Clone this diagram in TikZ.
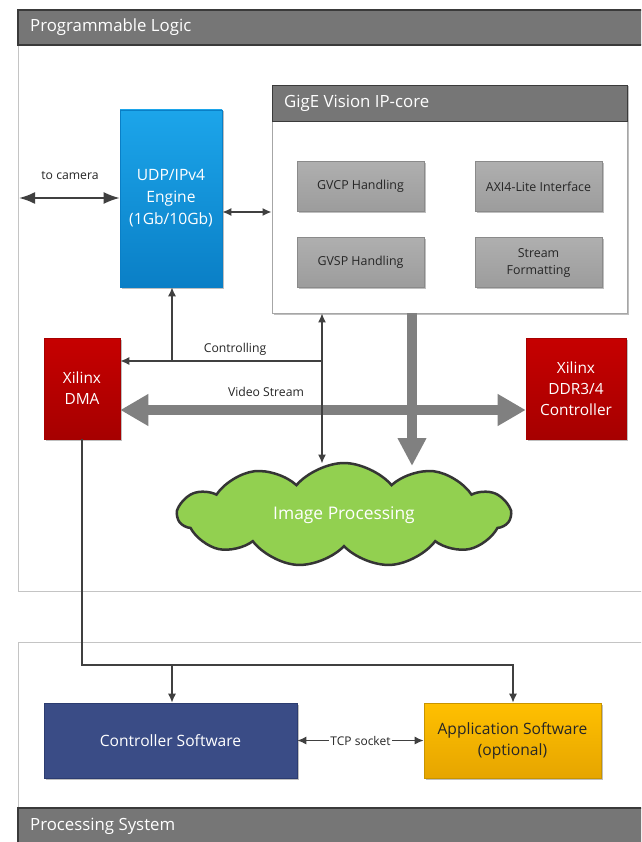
\documentclass[tikz,border=0pt]{standalone}
\usepackage{fontspec}
\setmainfont{Open Sans}
\usetikzlibrary{arrows.meta,shapes.symbols,shadows}
\definecolor{hdr}{HTML}{767676}
\definecolor{hdrline}{HTML}{3A3A3A}
\definecolor{pline}{HTML}{C4C4C4}
\definecolor{ink}{HTML}{262626}
\definecolor{arr}{HTML}{404040}
\definecolor{fat}{HTML}{808080}
\definecolor{blueT}{HTML}{1CA5EA}
\definecolor{blueB}{HTML}{0A7FC6}
\definecolor{redT}{HTML}{C60000}
\definecolor{redB}{HTML}{A60000}
\definecolor{grayT}{HTML}{AFAFAF}
\definecolor{grayB}{HTML}{9C9C9C}
\definecolor{grayline}{HTML}{8A8A8A}
\definecolor{navy}{HTML}{3A4C86}
\definecolor{navyline}{HTML}{2C3C70}
\definecolor{goldT}{HTML}{FFC000}
\definecolor{goldB}{HTML}{E6A500}
\definecolor{goldline}{HTML}{C89400}
\definecolor{cloudgreen}{HTML}{92D050}
\definecolor{cloudline}{HTML}{353535}
\definecolor{gigeline}{HTML}{A6A6A6}
\begin{document}
\begin{tikzpicture}[x=1pt,y=-1pt,
  every node/.style={inner sep=0pt, align=center},
  >={Latex[length=9pt,width=8pt]},
  shade/.style={drop shadow={shadow xshift=1.5pt, shadow yshift=-1.5pt, opacity=0.25, fill=black}},
  tarrow/.style={draw=arr, line width=1.4pt},
  fatarr/.style={draw=fat, line width=10pt},
  lbl/.style={text=ink, font=\fontsize{12.2}{15}\selectfont},
  graybox/.style={shade, top color=grayT, bottom color=grayB, draw=grayline, line width=0.6pt,
    minimum width=127pt, minimum height=50pt, text=ink, font=\fontsize{12.4}{17}\selectfont},
  redbox/.style={shade, top color=redT, bottom color=redB, draw=redB, line width=0.6pt,
    minimum height=101pt, text=white, font=\fontsize{15.4}{21}\selectfont},
  titletext/.style={anchor=west, text=white, font=\fontsize{16.8}{20}\selectfont},
]
\useasboundingbox (0,0) rectangle (641,842);
\clip (0,0) rectangle (641,842);

% ---------- panels ----------
\draw[draw=pline, line width=1pt, fill=white] (18,10) rectangle (660,591.5);
\draw[fill=hdr, draw=hdrline, line width=1.2pt] (18,10) rectangle (660,45);
\node[titletext] (pltitle) at (30,27.5) {Programmable Logic};

\draw[draw=pline, line width=1pt, fill=white] (18,642) rectangle (660,860);
\draw[fill=hdr, draw=hdrline, line width=1.2pt] (18,808) rectangle (660,860);
\node[titletext] (pstitle) at (30,826.5) {Processing System};

% ---------- GigE core ----------
\node[shade, draw=gigeline, line width=0.8pt, fill=white, minimum width=355pt, minimum height=228pt] (gige) at (449.5,199) {};
\node[fill=hdr, draw=hdrline, line width=1pt, minimum width=355pt, minimum height=36pt, anchor=north] (gigehdr) at (gige.north) {};
\node[titletext] (gigetitle) at (284,103) {GigE Vision IP-core};
\node[graybox] (gvcp) at (360.5,186.5) {GVCP Handling};
\node[graybox] (axi) at (538.5,186.5) {AXI4-Lite Interface};
\node[graybox] (gvsp) at (360.5,262.5) {GVSP Handling};
\node[graybox] (strm) at (538.5,262.5) {Stream\\Formatting};

% ---------- UDP engine ----------
\node[shade, top color=blueT, bottom color=blueB, draw=blueB, line width=0.6pt,
  minimum width=102pt, minimum height=177pt, text=white,
  font=\fontsize{15.6}{22}\selectfont] (udp) at (171,198.5) {UDP/IPv4\\Engine\\(1Gb/10Gb)};

% ---------- Xilinx blocks ----------
\node[redbox, minimum width=76pt] (dma) at (82,388.5) {Xilinx\\DMA};
\node[redbox, minimum width=100pt] (ddr) at (576,388.5) {Xilinx\\DDR3/4\\Controller};

% ---------- cloud ----------
\node[cloud, cloud puffs=11, cloud puff arc=100, shape border rotate=-8.2, aspect=3.2, minimum width=332pt, minimum height=104pt,
  fill=cloudgreen, draw=cloudline, line width=2.5pt, text=white,
  font=\fontsize{17.4}{20}\selectfont] (cloud) at (344,515) {Image Processing};

% ---------- software blocks ----------
\node[shade, fill=navy, draw=navyline, line width=0.6pt, minimum width=253pt, minimum height=75pt,
  text=white, font=\fontsize{15.6}{21}\selectfont] (ctrl) at (170.5,740.5) {Controller Software};
\node[shade, top color=goldT, bottom color=goldB, draw=goldline, line width=0.6pt, minimum width=177pt, minimum height=75pt,
  text=ink, font=\fontsize{15.6}{21}\selectfont] (app) at (512.5,740.5) {Application Software\\(optional)};

% ---------- connectors ----------
\coordinate (cam) at (19,198);
\draw[draw=arr, line width=2pt, {Latex[length=16pt,width=12pt]}-{Latex[length=16pt,width=12pt]}] (cam) -- (cam -| udp.west);
\node[lbl] (camlbl) at (70,176) {to camera};

\coordinate (ug) at (222,212);
\draw[tarrow, line width=1.6pt, <->] (udp.east |- ug) -- (gige.west |- ug);

% video stream (thick)
\coordinate (vs) at (120,410);
\draw[fatarr, {Triangle[length=28pt,width=30pt]}-{Triangle[length=28pt,width=30pt]}] (dma.east |- vs) -- (ddr.west |- vs);
\node[lbl] (vslbl) at (266,392) {Video Stream};

% thick down arrow to cloud
\coordinate (ft) at (412,466);
\draw[fatarr, -{Triangle[length=28pt,width=27pt]}] (gige.south -| ft) -- (ft);

% controlling
\coordinate (cj) at (322,361);
\coordinate (cu) at (172,361);
\coordinate (ct) at (322,463.5);
\draw[tarrow, ->] (cj) -- (cj -| dma.east);
\draw[tarrow, ->] (cu) -- (cu |- udp.south);
\draw[tarrow, <->] (gige.south -| ct) -- (ct);
\node[lbl] (ctlbl) at (235,349) {Controlling};

% DMA to software
\coordinate (bl) at (82,665);
\coordinate (br) at (513,665);
\coordinate (bm) at (172,665);
\draw[tarrow, ->] (dma.south) -- (bl) -- (br) -- (br |- app.north);
\draw[tarrow, ->] (bm) -- (bm |- ctrl.north);

% TCP socket
\draw[tarrow, <->] (ctrl.east) -- (app.west)
  node[midway, fill=white, inner xsep=1pt, inner ysep=2pt, text=ink, font=\fontsize{12}{14}\selectfont] (tcp) {TCP socket};
\end{tikzpicture}
\end{document}
